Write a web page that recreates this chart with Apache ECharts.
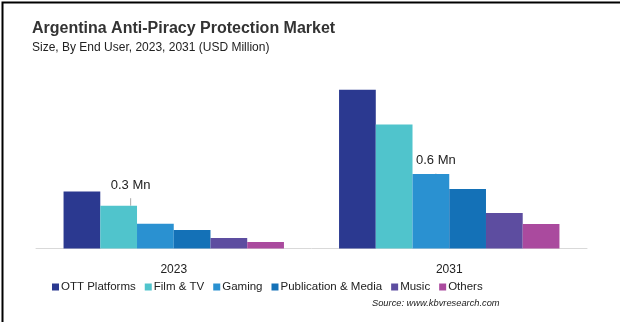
<!DOCTYPE html>
<html>
<head>
<meta charset="utf-8">
<script src="https://cdn.jsdelivr.net/npm/echarts@6/dist/echarts.min.js"></script>
<style>
  html, body { margin: 0; padding: 0; background: #fff; }
  #chart { width: 620px; height: 322px; }
</style>
</head>
<body>
<div id="chart"></div>
<script>
// Market size by end user, USD million
const years = ['2023', '2031'];
const ottPlatforms = [0.46, 1.28];
const filmTv = [0.345, 1.0];
const gaming = [0.2, 0.6];
const publicationMedia = [0.15, 0.48];
const music = [0.085, 0.286];
const others = [0.052, 0.197];

const seriesNames = ['OTT Platforms', 'Film & TV', 'Gaming', 'Publication & Media', 'Music', 'Others'];
const seriesColors = ['#2B3990', '#50C4CC', '#2A91D1', '#1471B7', '#5D4DA0', '#AA4A9E'];
const seriesValues = [ottPlatforms, filmTv, gaming, publicationMedia, music, others];

const FONT = 'Liberation Sans';

const valueLabel = (extra) => Object.assign({
  show: true,
  position: 'top',
  fontFamily: FONT,
  fontSize: 13,
  color: '#222',
  formatter: (p) => p.value.toFixed(1) + ' Mn'
}, extra);

// Annotated points: Film & TV in 2023, Gaming in 2031
const labelled = { 1: { 0: { label: valueLabel({ offset: [12, -9] }) } },
                   2: { 1: { label: valueLabel({ offset: [5, -2] }) } } };

const series = seriesNames.map((name, i) => ({
  name,
  type: 'bar',
  barGap: '0%',
  barCategoryGap: '20%',
  itemStyle: { color: seriesColors[i] },
  labelLine: { show: true, lineStyle: { color: '#aaa', width: 1 } },
  data: seriesValues[i].map((v, j) => {
    const cfg = labelled[i] && labelled[i][j];
    return cfg ? { value: v, label: cfg.label } : v;
  })
}));

const chart = echarts.init(document.getElementById('chart'), null, { renderer: 'canvas' });
chart.setOption({
  animation: false,
  backgroundColor: '#fff',
  title: [
    {
      text: 'Argentina Anti-Piracy Protection Market',
      left: 32, top: 21, padding: 0,
      textStyle: { fontFamily: FONT, fontSize: 16, fontWeight: 'bold', color: '#333' }
    },
    {
      text: 'Size, By End User, 2023, 2031 (USD Million)',
      left: 32, top: 42, padding: 0,
      textStyle: { fontFamily: FONT, fontSize: 12, fontWeight: 'normal', color: '#222' }
    },
    {
      text: 'Source: www.kbvresearch.com',
      left: 372, top: 299, padding: 0,
      textStyle: { fontFamily: FONT, fontSize: 9.3, fontStyle: 'italic', fontWeight: 'normal', color: '#222' }
    }
  ],
  legend: {
    data: seriesNames,
    left: 52,
    top: 281,
    padding: 0,
    itemWidth: 7,
    itemHeight: 7,
    itemGap: 9,
    icon: 'rect',
    textStyle: { fontFamily: FONT, fontSize: 11.5, color: '#222', padding: [0, 0, 0, -3] }
  },
  grid: { left: 36, right: 33, top: 50, bottom: 73.5 },
  xAxis: {
    type: 'category',
    data: years,
    axisLine: { lineStyle: { color: '#D9D9D9' } },
    axisTick: { show: false },
    axisLabel: { fontFamily: FONT, fontSize: 12, color: '#222', margin: 15 }
  },
  yAxis: {
    type: 'value',
    min: 0,
    max: 1.6,
    show: false,
    splitLine: { show: false }
  },
  series,
  graphic: [{
    type: 'rect',
    left: 0, top: 0,
    shape: { width: 620, height: 322 },
    style: { fill: 'none', stroke: '#000', lineWidth: 2 },
    silent: true
  }]
});
</script>
</body>
</html>
